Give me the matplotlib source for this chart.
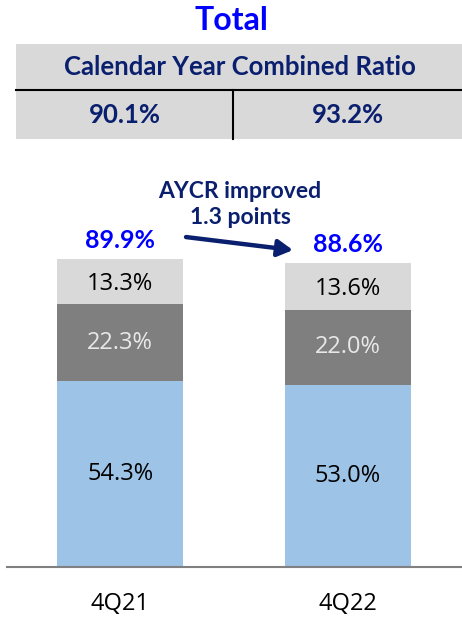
import numpy as np
import matplotlib.pyplot as plt
from matplotlib.patches import Rectangle

# data
quarters = ["4Q21", "4Q22"]
loss_ratio = [54.3, 53.0]       # blue, bottom
expense_ratio = [22.3, 22.0]    # dark gray, middle
other_ratio = [13.3, 13.6]      # light gray, top
aycr = [89.9, 88.6]
cy_labels = ["90.1%", "93.2%"]
title = "Total"
header = "Calendar Year Combined Ratio"
note = "AYCR improved\n1.3 points"

navy = "#0A1F6E"
blue_txt = "#0000FF"
c_blue = "#9DC3E6"
c_dark = "#7F7F7F"
c_light = "#D9D9D9"

W, H = 462, 617
fig = plt.figure(figsize=(W/100, H/100), dpi=100)

# overlay axes in pixel coords for title and table
top = fig.add_axes([0, 0, 1, 1])
top.set_xlim(0, W)
top.set_ylim(H, 0)
top.axis("off")

top.text(231, 20, title, ha="center", va="center", fontsize=23,
         fontweight="bold", color=blue_txt, family="Lato")
top.add_patch(Rectangle((16, 44), W-16, 95, facecolor=c_light, edgecolor="none"))
top.plot([16, W], [90, 90], color="black", lw=1.5)
top.plot([233, 233], [90, 139], color="black", lw=1.5)
top.text(240, 67, header, ha="center", va="center", fontsize=18.5,
         fontweight="bold", color=navy, family="Lato")
top.text(125, 115, cy_labels[0], ha="center", va="center", fontsize=18.5,
         fontweight="bold", color=navy, family="Lato")
top.text(348, 115, cy_labels[1], ha="center", va="center", fontsize=18.5,
         fontweight="bold", color=navy, family="Lato")

# bar axes: baseline at y=567 px, 3.43 px per point
ax = fig.add_axes([7/W, (H-567)/H, (W-7)/W, 427/H])
ax.patch.set_alpha(0)
x = np.arange(len(quarters))
w = 0.554
ax.bar(x, loss_ratio, w, color=c_blue)
ax.bar(x, expense_ratio, w, bottom=loss_ratio, color=c_dark)
bot2 = np.array(loss_ratio) + np.array(expense_ratio)
ax.bar(x, other_ratio, w, bottom=bot2, color=c_light)

for i in range(len(x)):
    ax.text(x[i], loss_ratio[i]/2, f"{loss_ratio[i]:.1f}%", ha="center",
            va="center", fontsize=17, color="black", family="Open Sans")
    ax.text(x[i], loss_ratio[i] + expense_ratio[i]/2, f"{expense_ratio[i]:.1f}%",
            ha="center", va="center", fontsize=17, color="#E8E8E8", family="Open Sans")
    ax.text(x[i], bot2[i] + other_ratio[i]/2 - 0.8, f"{other_ratio[i]:.1f}%",
            ha="center", va="center", fontsize=17, color="black", family="Open Sans")
    ax.text(x[i], aycr[i] + 5.3, f"{aycr[i]:.1f}%", ha="center", va="center",
            fontsize=18, fontweight="bold", color=blue_txt, family="Lato")

ax.annotate("", xy=(0.76, 92.4), xytext=(0.29, 96.2),
            arrowprops=dict(arrowstyle="-|>,head_length=0.9,head_width=0.5",
                            color=navy, lw=3.2, shrinkA=0, shrinkB=0))
ax.text(0.527, 105.8, note, ha="center", va="center", fontsize=16.5,
        fontweight="bold", color=navy, family="Lato", linespacing=1.3)

ax.set_xlim(-0.497, 1.503)
ax.set_ylim(0, 124.5)
ax.set_xticks(x)
ax.set_xticklabels(quarters, fontsize=17, family="Open Sans")
ax.tick_params(axis="x", length=0, pad=18)
ax.set_yticks([])
for s in ["top", "right", "left"]:
    ax.spines[s].set_visible(False)
ax.spines["bottom"].set_color("#808080")
ax.spines["bottom"].set_linewidth(1.5)

plt.savefig("out.png", dpi=100)
